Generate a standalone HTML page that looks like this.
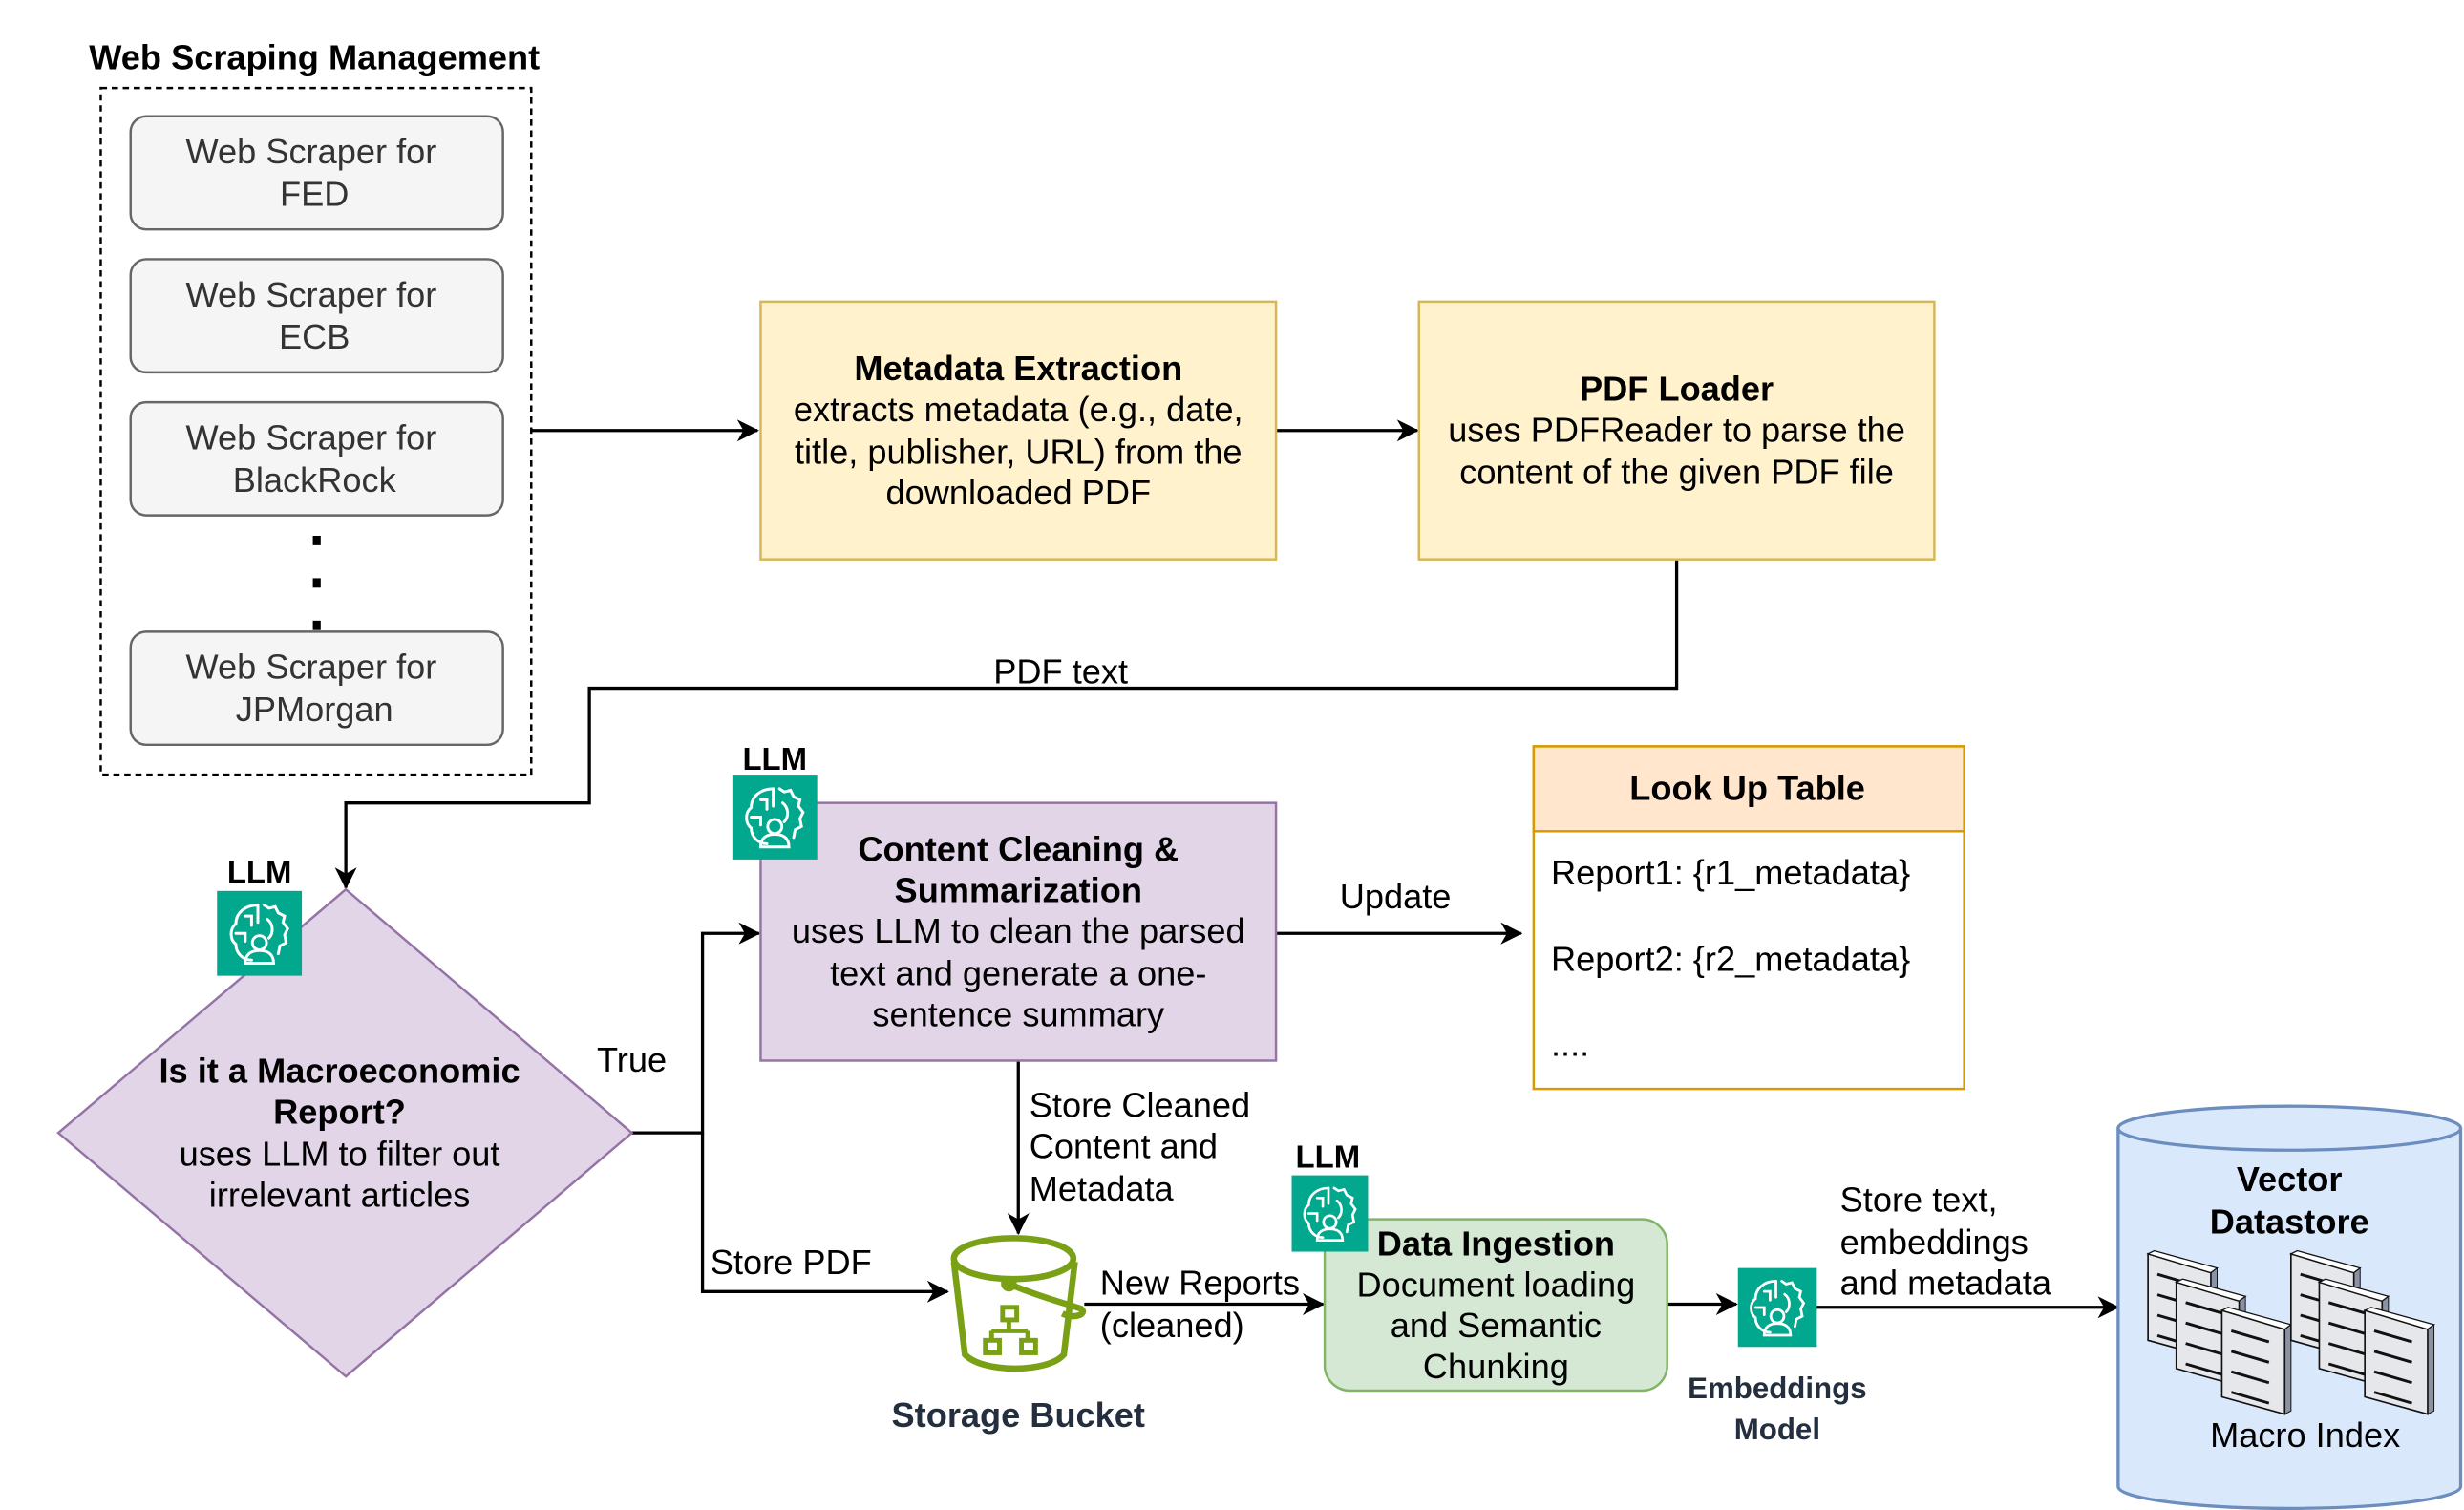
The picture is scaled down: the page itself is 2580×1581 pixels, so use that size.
<!DOCTYPE html>
<html><head><meta charset="utf-8"><style>
html,body{margin:0;padding:0;background:#fff}
svg{display:block}
text{font-family:"Liberation Sans",sans-serif;font-size:22px;fill:#000}
.b{font-weight:bold}
.c{text-anchor:middle}
</style></head><body>
<svg width="2580" height="1581" viewBox="0 0 1568 961" xmlns="http://www.w3.org/2000/svg">
<defs>
<marker id="ar" markerWidth="14" markerHeight="14" refX="13" refY="7" orient="auto" markerUnits="userSpaceOnUse" viewBox="0 0 14 14">
<path d="M0,0 L14,7 L0,14 L4,7 Z" fill="#000"/></marker>
<g id="llm">
<rect x="0" y="0" width="54" height="54" fill="#01A88D"/>
<g fill="none" stroke="#fff" stroke-width="1.8" stroke-linecap="round">
<path d="M26,9 C18,9 12,14 12,21 C8,24 8,31 12,34 C12,40 17,44 22,44"/>
<path d="M26,9 L26,20 M18,16 L22,16 L22,22 M12,27 L18,27 L18,32"/>
<path d="M30,9 L33,11 L37,10 L39,14 L43,16 L42,20 L45,24 L43,28 L44,33 L40,35 L39,40"/>
<path d="M32,18 C36,21 36,27 33,30"/>
<circle cx="27" cy="33" r="4.5"/>
<path d="M18,46 C18,40 22,38 27,38 C32,38 36,40 36,46 Z"/>
</g></g>
<g id="doc">
<path d="M40,12 L44,11 L44,66 L40,68 Z" fill="#8a93a3" stroke="#111" stroke-width="0.6"/>
<path d="M0,2 L40,14 L40,68 L0,57 Z" fill="#e6e7eb" stroke="#111" stroke-width="1"/>
<path d="M0,2 L4,0 L44,11 L40,14 Z" fill="#fff" stroke="#111" stroke-width="0.8"/>
<g stroke="#111" stroke-width="1.8"><path d="M6,15 L30,22 M6,28 L30,35 M6,41 L30,48 M6,54 L30,61"/></g>
</g>
</defs>

<text x="200" y="44" class="b c">Web Scraping Management</text>
<rect x="64" y="56" width="274" height="437" fill="none" stroke="#000" stroke-width="1.5" stroke-dasharray="4,3"/>
<g fill="#f5f5f5" stroke="#666" stroke-width="1.5">
<rect x="83" y="74" width="237" height="72" rx="10"/>
<rect x="83" y="165" width="237" height="72" rx="10"/>
<rect x="83" y="256" width="237" height="72" rx="10"/>
<rect x="83" y="402" width="237" height="72" rx="10"/>
</g>
<text x="198" y="104" class="c" style="fill:#333">Web Scraper for</text><text x="200" y="131" class="c" style="fill:#333">FED</text>
<text x="198" y="195" class="c" style="fill:#333">Web Scraper for</text><text x="200" y="222" class="c" style="fill:#333">ECB</text>
<text x="198" y="286" class="c" style="fill:#333">Web Scraper for</text><text x="200" y="313" class="c" style="fill:#333">BlackRock</text>
<text x="198" y="432" class="c" style="fill:#333">Web Scraper for</text><text x="200" y="459" class="c" style="fill:#333">JPMorgan</text>
<rect x="199" y="341" width="5" height="6" fill="#000"/>
<rect x="199" y="368" width="5" height="6" fill="#000"/>
<rect x="199" y="395" width="5" height="6" fill="#000"/>

<g stroke="#000" stroke-width="2" fill="none">
<path d="M338,274 L482,274" marker-end="url(#ar)"/>
<path d="M812,274 L902,274" marker-end="url(#ar)"/>
<path d="M1067,356 L1067,438 L375,438 L375,511 L220,511 L220,565" marker-end="url(#ar)"/>
<path d="M402,721 L447,721 L447,594 L483,594" marker-end="url(#ar)"/>
<path d="M447,721 L447,822 L603,822" marker-end="url(#ar)"/>
<path d="M812,594 L968,594" marker-end="url(#ar)"/>
<path d="M648,675 L648,785" marker-end="url(#ar)"/>
<path d="M690,830 L842,830" marker-end="url(#ar)"/>
<path d="M1061,830 L1105,830" marker-end="url(#ar)"/>
<path d="M1156,832 L1348,832" marker-end="url(#ar)"/>
</g>

<rect x="484" y="192" width="328" height="164" fill="#fff2cc" stroke="#d6b656" stroke-width="1.5"/>
<text x="648" y="242" class="b c">Metadata Extraction</text>
<text x="648" y="268" class="c">extracts metadata (e.g., date,</text>
<text x="648" y="295" class="c">title, publisher, URL) from the</text>
<text x="648" y="321" class="c">downloaded PDF</text>
<rect x="903" y="192" width="328" height="164" fill="#fff2cc" stroke="#d6b656" stroke-width="1.5"/>
<text x="1067" y="255" class="b c">PDF Loader</text>
<text x="1067" y="281" class="c">uses PDFReader to parse the</text>
<text x="1067" y="308" class="c">content of the given PDF file</text>
<text x="675" y="435" class="c">PDF text</text>

<path d="M220,566 L402,721 L220,876 L37,721 Z" fill="#e1d5e7" stroke="#9673a6" stroke-width="1.5"/>
<text x="216" y="689" class="b c">Is it a Macroeconomic</text>
<text x="216" y="715" class="b c">Report?</text>
<text x="216" y="742" class="c">uses LLM to filter out</text>
<text x="216" y="768" class="c">irrelevant articles</text>
<use href="#llm" x="138" y="567"/>
<text x="165" y="562" class="b c" style="font-size:20px">LLM</text>
<text x="402" y="682" class="c">True</text>
<text x="452" y="811">Store PDF</text>

<rect x="484" y="511" width="328" height="164" fill="#e1d5e7" stroke="#9673a6" stroke-width="1.5"/>
<text x="648" y="548" class="b c">Content Cleaning &amp;</text>
<text x="648" y="574" class="b c">Summarization</text>
<text x="648" y="600" class="c">uses LLM to clean the parsed</text>
<text x="648" y="627" class="c">text and generate a one-</text>
<text x="648" y="653" class="c">sentence summary</text>
<use href="#llm" x="466" y="493"/>
<text x="493" y="490" class="b c" style="font-size:20px">LLM</text>
<text x="888" y="578" class="c">Update</text>

<rect x="976" y="475" width="274" height="218" fill="#fff" stroke="#d79b00" stroke-width="1.5"/>
<rect x="976" y="475" width="274" height="54" fill="#ffe6cc" stroke="#d79b00" stroke-width="1.5"/>
<text x="1112" y="509" class="b c">Look Up Table</text>
<text x="987" y="563">Report1: {r1_metadata}</text>
<text x="987" y="618">Report2: {r2_metadata}</text>
<text x="987" y="672">....</text>

<text x="655" y="711">Store Cleaned</text>
<text x="655" y="737">Content and</text>
<text x="655" y="764">Metadata</text>

<g fill="none" stroke="#7aa116" stroke-width="4">
<ellipse cx="645" cy="801" rx="38" ry="13"/>
<path d="M607,803 L614,862 C625,874 667,874 677,862 L684,803"/>
<path d="M642,817 C660,825 680,830 688,833 C692,836 684,840 676,836"/>
<circle cx="642" cy="817" r="3" fill="#7aa116"/>
<rect x="638" y="832" width="9" height="8" stroke-width="3"/>
<path d="M642,840 L642,847 M631,847 L654,847 M631,847 L631,853 M654,847 L654,853" stroke-width="3"/>
<rect x="627" y="853" width="9" height="8" stroke-width="3"/>
<rect x="650" y="853" width="9" height="8" stroke-width="3"/>
</g>
<text x="648" y="908" class="b c" style="fill:#232f3e">Storage Bucket</text>
<text x="700" y="824">New Reports</text>
<text x="700" y="851">(cleaned)</text>

<rect x="843" y="776" width="218" height="109" rx="16" fill="#d5e8d4" stroke="#82b366" stroke-width="1.5"/>
<text x="952" y="799" class="b c">Data Ingestion</text>
<text x="952" y="825" class="c">Document loading</text>
<text x="952" y="851" class="c">and Semantic</text>
<text x="952" y="877" class="c">Chunking</text>
<use href="#llm" transform="translate(822,748) scale(0.9)"/>
<text x="845" y="743" class="b c" style="font-size:20px">LLM</text>

<use href="#llm" transform="translate(1106,807) scale(0.93)"/>
<text x="1131" y="890" class="b c" style="fill:#232f3e;font-size:19px">Embeddings</text>
<text x="1131" y="916" class="b c" style="fill:#232f3e;font-size:19px">Model</text>
<text x="1171" y="771">Store text,</text>
<text x="1171" y="798">embeddings</text>
<text x="1171" y="824">and metadata</text>

<path d="M1348,718 L1348,946 A109,14 0 0 0 1566,946 L1566,718" fill="#dae8fc" stroke="#6c8ebf" stroke-width="2"/>
<ellipse cx="1457" cy="718" rx="109" ry="14" fill="#dae8fc" stroke="#6c8ebf" stroke-width="2"/>
<text x="1457" y="758" class="b c">Vector</text>
<text x="1457" y="785" class="b c">Datastore</text>
<use href="#doc" x="1367" y="796"/>
<use href="#doc" x="1385" y="814"/>
<use href="#doc" x="1414" y="832"/>
<use href="#doc" x="1458" y="796"/>
<use href="#doc" x="1476" y="814"/>
<use href="#doc" x="1505" y="832"/>
<text x="1467" y="921" class="c">Macro Index</text>
</svg>
</body></html>
